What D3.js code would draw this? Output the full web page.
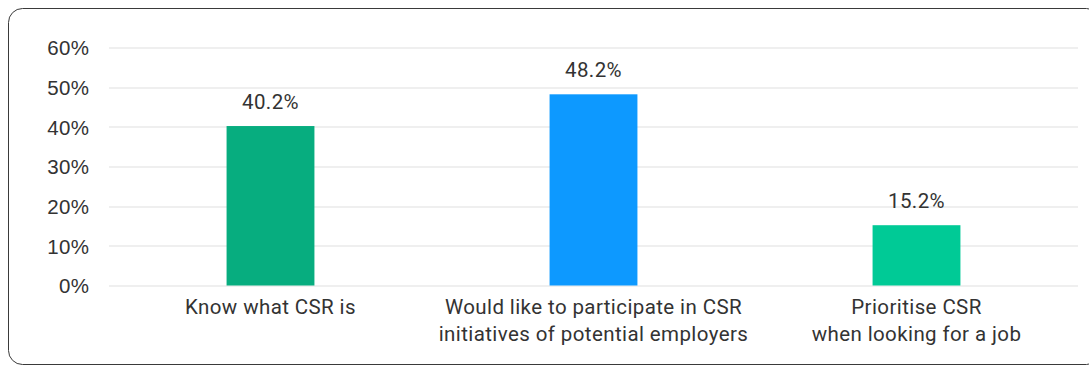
<!DOCTYPE html>
<html>
<head>
<meta charset="utf-8">
<script src="https://cdn.jsdelivr.net/npm/d3@7"></script>
<style>
  body { margin: 0; background: #fff; }
  svg { display: block; font-family: Roboto, "Noto Sans", sans-serif; }
  svg text { letter-spacing: 0.4px; }
</style>
</head>
<body>
<div id="chart"></div>
<script>
// data
const categories = [
  ["Know what CSR is"],
  ["Would like to participate in CSR", "initiatives of potential employers"],
  ["Prioritise CSR", "when looking for a job"]
];
const values = [40.2, 48.2, 15.2];
const barColors = ["#07ad7f", "#0d99ff", "#00ca96"];
const yTicks = [0, 10, 20, 30, 40, 50, 60];

const W = 1089, H = 367;
const margin = {top: 47.5, right: 11, bottom: 81.5, left: 109};
const width = W - margin.left - margin.right,
      height = H - margin.top - margin.bottom;
const fs = "20.5px";

const svg = d3.select("#chart").append("svg")
  .attr("width", W)
  .attr("height", H);

// outer frame, right edge runs off the canvas
svg.append("rect")
  .attr("x", 8.5).attr("y", 8.5)
  .attr("width", 1092).attr("height", 356)
  .attr("rx", 14)
  .attr("fill", "none")
  .attr("stroke", "#3a3a3a")
  .attr("stroke-width", 1);

const g = svg.append("g")
  .attr("transform", "translate(" + margin.left + "," + margin.top + ")");

const idx = d3.range(values.length);
const x = d3.scaleBand()
  .domain(idx)
  .range([0, width])
  .paddingInner(0.728)
  .paddingOuter(0.364);

const y = d3.scaleLinear()
  .domain([0, 60])
  .range([height, 0]);

// gridlines
g.append("g")
  .selectAll("line")
  .data(yTicks)
  .enter()
  .append("line")
    .attr("x1", 0).attr("x2", width)
    .attr("y1", d => Math.round(y(d)) + 0.5)
    .attr("y2", d => Math.round(y(d)) + 0.5)
    .attr("stroke", "#e0e0e0")
    .attr("stroke-width", 1.2);

// y axis labels
const yAxis = g.append("g")
  .call(d3.axisLeft(y).tickValues(yTicks).tickFormat(d => d + "%").tickSize(0).tickPadding(19.5));
yAxis.select(".domain").remove();
yAxis.selectAll("text")
  .attr("fill", "#333")
  .style("font-size", fs)
  .attr("dy", "0.35em");

// bars
g.append("g")
  .selectAll("rect")
  .data(values)
  .enter()
  .append("rect")
    .attr("x", (d, i) => x(i))
    .attr("y", d => y(d))
    .attr("width", x.bandwidth())
    .attr("height", d => y(0) - y(d))
    .attr("fill", (d, i) => barColors[i]);

// value labels
g.append("g")
  .selectAll("text")
  .data(values)
  .enter()
  .append("text")
    .attr("x", (d, i) => x(i) + x.bandwidth() / 2)
    .attr("y", d => y(d) - 17)
    .attr("text-anchor", "middle")
    .attr("fill", "#333")
    .style("font-size", fs)
    .text(d => d.toFixed(1) + "%");

// category labels
const xAxis = g.append("g")
  .attr("transform", "translate(0," + height + ")");
categories.forEach((lines, i) => {
  const t = xAxis.append("text")
    .attr("text-anchor", "middle")
    .attr("fill", "#333")
    .style("font-size", fs);
  lines.forEach((ln, j) => {
    t.append("tspan")
      .attr("x", x(i) + x.bandwidth() / 2)
      .attr("y", 28 + j * 27)
      .text(ln);
  });
});
</script>
</body>
</html>
